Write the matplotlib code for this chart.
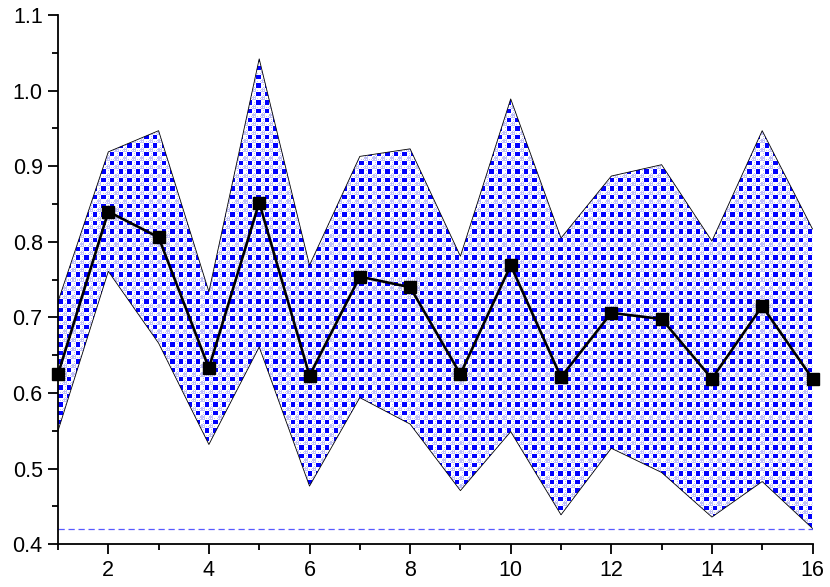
import numpy as np
import matplotlib
matplotlib.use("Agg")
import matplotlib.pyplot as plt
from matplotlib.ticker import MultipleLocator, FormatStrFormatter

plt.rcParams['font.family'] = ['Liberation Sans', 'DejaVu Sans']

x = [1, 2, 3, 4, 5, 6, 7, 8, 9, 10, 11, 12, 13, 14, 15, 16]
mean = [0.625, 0.840, 0.806, 0.633, 0.852, 0.623, 0.754, 0.740,
        0.625, 0.769, 0.621, 0.706, 0.698, 0.619, 0.715, 0.619]
upper = [0.721, 0.919, 0.947, 0.734, 1.042, 0.769, 0.913, 0.923,
         0.781, 0.989, 0.805, 0.887, 0.902, 0.801, 0.947, 0.817]
lower = [0.550, 0.761, 0.666, 0.532, 0.661, 0.477, 0.594, 0.559,
         0.471, 0.549, 0.439, 0.527, 0.495, 0.436, 0.483, 0.421]
ref_level = 0.42

fig = plt.figure(figsize=(8.3, 5.87), dpi=100)
ax = fig.add_axes([58/830, (587-544.3)/587, (812.5-58)/830, (544.3-15)/587])
ax.set_xlim(1, 16)
ax.set_ylim(0.4, 1.1)

# band with patterned fill
poly = ax.fill_between(x, lower, upper, facecolor='none', edgecolor='none', zorder=1)
wpx = int(round(812.5 - 58)); hpx = int(round(544.3 - 15))
yy, xx = np.mgrid[0:hpx, 0:wpx]
u = np.floor(xx / 1.075).astype(int) % 8
v = np.floor(yy / 1.075).astype(int) % 8
tex = np.ones((hpx, wpx, 3))
light = np.array([0.75, 0.75, 0.98])
gap_u = u >= 4
gap_v = v >= 4
light_mask = (gap_u & gap_v & ((u == 5) | (u == 7) | (v == 5) | (v == 7))) | \
             (gap_u & ~gap_v & (u == 6) & ((v % 2) == 1)) | \
             (gap_v & ~gap_u & (v == 6) & ((u % 2) == 1))
tex[light_mask] = light
tex[(u < 4) & (v < 4)] = [0, 0, 1]
im = ax.imshow(tex, extent=(1, 16, 0.4, 1.1), aspect='auto', interpolation='nearest',
               zorder=1, origin='upper')
im.set_clip_path(poly.get_paths()[0], transform=ax.transData)

ax.plot(x, upper, color='black', lw=0.6, zorder=2)
ax.plot(x, lower, color='black', lw=0.6, zorder=2)

ax.plot([x[0], x[-1]], [ref_level, ref_level], color='#5a5aff', lw=0.9,
        ls=(0, (5, 3)), zorder=2)

ax.plot(x, mean, color='black', lw=1.9, marker='s', markersize=8.8, zorder=3, clip_on=False)

for s in ['top', 'right']:
    ax.spines[s].set_visible(False)
for s in ['left', 'bottom']:
    ax.spines[s].set_linewidth(1.3)

ax.xaxis.set_major_locator(MultipleLocator(2))
ax.xaxis.set_minor_locator(MultipleLocator(1))
ax.yaxis.set_major_locator(MultipleLocator(0.1))
ax.yaxis.set_minor_locator(MultipleLocator(0.05))
ax.tick_params(which='major', direction='out', length=7, width=1.3, labelsize=15.5, pad=4)
ax.tick_params(which='minor', direction='out', length=4, width=1.3)
ax.yaxis.set_major_formatter(FormatStrFormatter('%.1f'))

fig.savefig('out.png', dpi=100)
